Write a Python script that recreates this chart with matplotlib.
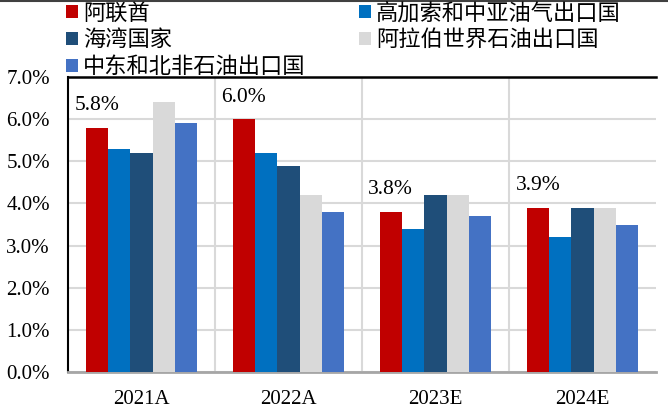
import numpy as np
import matplotlib.pyplot as plt
from matplotlib.patches import Patch
from matplotlib.lines import Line2D

plt.rcParams['font.family'] = ['Liberation Serif', 'Noto Sans CJK SC']

years = ["2021A", "2022A", "2023E", "2024E"]
series = ["阿联酋", "高加索和中亚油气出口国", "海湾国家", "阿拉伯世界石油出口国", "中东和北非石油出口国"]
uae = [5.8, 6.0, 3.8, 3.9]
caucasus = [5.3, 5.2, 3.4, 3.2]
gulf = [5.2, 4.9, 4.2, 3.9]
arab = [6.4, 4.2, 4.2, 3.9]
mena = [5.9, 3.8, 3.7, 3.5]
values = [uae, caucasus, gulf, arab, mena]
colors = ["#C00000", "#0070C0", "#1F4E79", "#D9D9D9", "#4472C4"]

fig = plt.figure(figsize=(6.68, 4.08), dpi=100)
ax = fig.add_axes([68/668, 1-372/408, 588/668, 295/408])

x = np.arange(len(years))
w = 0.152
for i, (vals, c) in enumerate(zip(values, colors)):
    ax.bar(x + (i - 2) * w, vals, width=w, color=c, zorder=3)

# data labels on the UAE bars
for xi, v in zip(x, uae):
    ax.text(xi - 2 * w, v + 0.52, f"{v:.1f}%", ha='center', va='center', fontsize=15.5, zorder=4)

ax.set_xlim(-0.5, 3.5)
ax.set_ylim(0, 7)
ax.set_yticks(np.arange(0, 7.1, 1))
ax.set_yticklabels([f"{t:.1f}%" for t in np.arange(0, 7.1, 1)], fontsize=15)
ax.set_xticks(x)
ax.set_xticklabels(years, fontsize=15)
ax.tick_params(axis='both', length=0)
ax.tick_params(axis='y', pad=13)
ax.tick_params(axis='x', pad=13)

ax.yaxis.grid(True, color="#D9D9D9", linewidth=1.5, zorder=0)
for b in [0.5, 1.5, 2.5]:
    ax.axvline(b, color="#D9D9D9", linewidth=1.5, zorder=0)

ax.spines['right'].set_visible(False)
ax.spines['left'].set_color('black')
ax.spines['left'].set_linewidth(1.5)
ax.spines['top'].set_color('black')
ax.spines['top'].set_linewidth(1.8)
ax.spines['bottom'].set_color('#A6A6A6')
ax.spines['bottom'].set_linewidth(2)

# legend, filled column by column
order = [0, 2, 4, 1, 3]
handles = [Patch(facecolor=colors[i], edgecolor='none') for i in order]
labels = [series[i] for i in order]
fig.legend(handles, labels, ncol=2, loc='upper left', bbox_to_anchor=(66/668, 1 - 3/408),
           frameon=False, fontsize=16, borderpad=0, borderaxespad=0,
           handlelength=0.52, handleheight=0.52, handletextpad=0.25,
           columnspacing=2.4, labelspacing=0.27)

# thin border line at the top of the image
fig.add_artist(Line2D([0, 1], [1 - 1/408, 1 - 1/408], transform=fig.transFigure,
                      color="#404040", linewidth=1.5))

fig.savefig("out.png", dpi=100)
